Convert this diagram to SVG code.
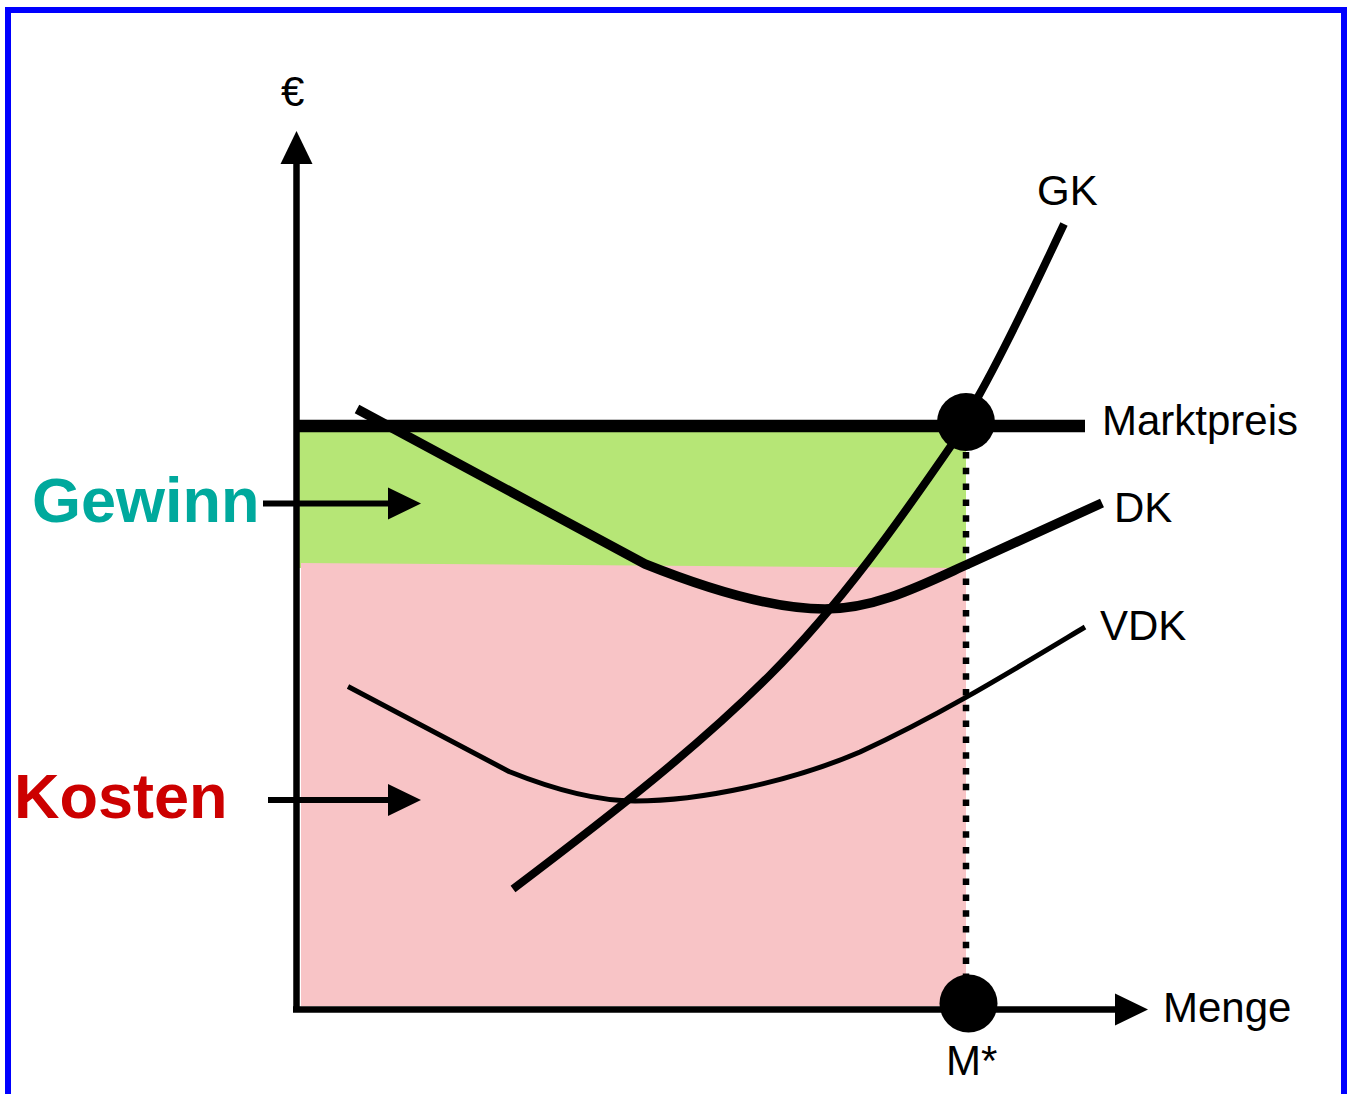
<svg xmlns="http://www.w3.org/2000/svg" width="1351" height="1094" viewBox="0 0 1351 1094">
<style>
text{font-family:"Liberation Sans",Arial,sans-serif;font-size:42px;fill:#000}
.big{font-size:63px;font-weight:bold}
.curve{fill:none;stroke:#000;stroke-linecap:butt;stroke-linejoin:round}
</style>
<defs>
<marker id="ah" markerUnits="userSpaceOnUse" markerWidth="34" markerHeight="34" refX="0" refY="16" orient="auto" viewBox="0 0 34 32">
<path d="M0,0 L33,16 L0,32 Z" fill="#000"/>
</marker>
</defs>
<rect id="frame" x="8" y="10" width="1336" height="1120" fill="#fff" stroke="#0000FF" stroke-width="6"/>
<g id="areas">
<rect id="gewinn-area" x="299" y="432" width="667" height="136" fill="#B6E676"/>
<polygon id="kosten-area" points="301,563 966,568 966,1006 301,1006" fill="#F8C4C6"/>
</g>
<g id="connectors">
<line id="y-axis" x1="296.5" y1="1009.5" x2="296.5" y2="164" stroke="#000" stroke-width="6.5" marker-end="url(#ah)"/>
<line id="x-axis" x1="293" y1="1009.5" x2="1115" y2="1009.5" stroke="#000" stroke-width="6.5" marker-end="url(#ah)"/>
<line id="marktpreis-line" x1="296" y1="426" x2="1085" y2="426" stroke="#000" stroke-width="12.5"/>
<line id="m-dotted" x1="966" y1="452" x2="966" y2="975" stroke="#000" stroke-width="6.5" stroke-dasharray="6.5 9.3"/>
<line id="gewinn-arrow" x1="263" y1="503.5" x2="388" y2="503.5" stroke="#000" stroke-width="6" marker-end="url(#ah)"/>
<line id="kosten-arrow" x1="268" y1="800" x2="388" y2="800" stroke="#000" stroke-width="6" marker-end="url(#ah)"/>
<path id="dk" class="curve" stroke-width="9.5" d="M357,409 L645,564 C700,586 770,609 825,609 C875,609 920,586 966,565 L1102,503"/>
<path id="vdk" class="curve" stroke-width="5" d="M348,686.5 L509,771.5 C560,792 600,801 635,801 C700,801 790,782 860,752 C940,715 1010,672 1085,627"/>
<path id="gk" class="curve" stroke-width="8" d="M513,889 C620,808 700,745 770,675 C840,605 900,520 955,440 L978,397 C1010,340 1035,285 1064,224"/>
</g>
<g id="point-top"><circle cx="966" cy="422" r="29" fill="#000"/></g>
<g id="point-bottom"><circle cx="968.5" cy="1003.5" r="29" fill="#000"/></g>
<g id="labels">
<text id="euro" x="281" y="106">€</text>
<text id="gk-label" x="1037" y="205">GK</text>
<text id="marktpreis-label" x="1102" y="435">Marktpreis</text>
<text id="dk-label" x="1114" y="522">DK</text>
<text id="vdk-label" x="1100" y="640">VDK</text>
<text id="menge-label" x="1163" y="1022">Menge</text>
<text id="mstar-label" x="946" y="1075">M*</text>
<text id="gewinn-label" class="big" x="32" y="522" style="fill:#00A99D">Gewinn</text>
<text id="kosten-label" class="big" x="14" y="818" style="fill:#CC0000">Kosten</text>
</g>
</svg>
